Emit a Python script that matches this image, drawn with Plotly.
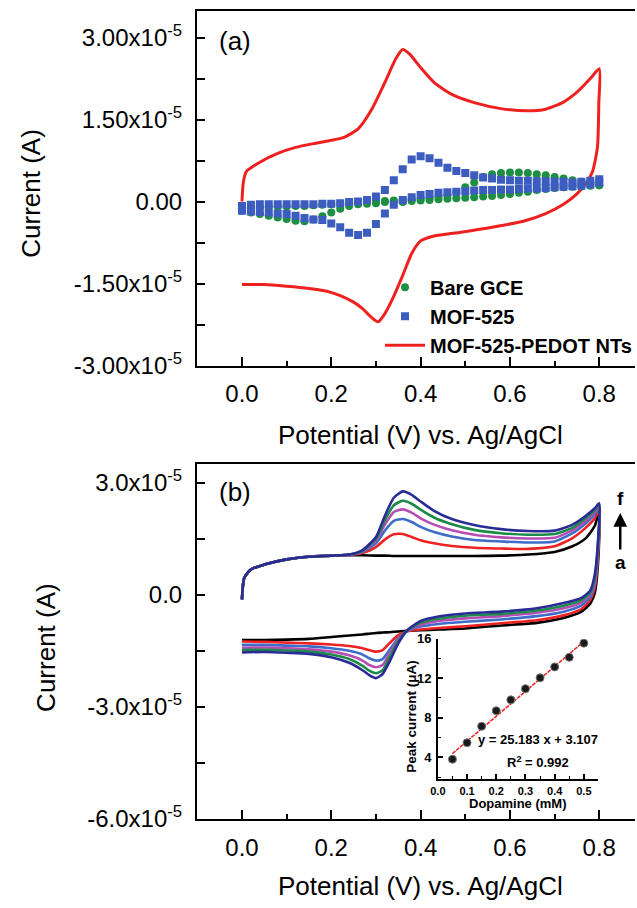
import plotly.graph_objects as go

FONT = "Arial, 'Liberation Sans', sans-serif"
W, H = 637, 908
SCALE = 1e-5  # current arrays below are in units of 1e-5 A

# ---------------- Panel (a) ----------------
a_fwd_x = [0.00, 0.02, 0.04, 0.06, 0.08, 0.10, 0.12, 0.14, 0.16, 0.18, 0.20,
           0.22, 0.24, 0.26, 0.28, 0.30, 0.32, 0.34, 0.36, 0.38, 0.40,
           0.42, 0.44, 0.46, 0.48, 0.50, 0.52, 0.54, 0.56, 0.58, 0.60,
           0.62, 0.64, 0.66, 0.68, 0.70, 0.72, 0.74, 0.76, 0.78, 0.80]
a_rev_x = [0.80, 0.78, 0.76, 0.74, 0.72, 0.70, 0.68, 0.66, 0.64, 0.62, 0.60,
           0.58, 0.56, 0.54, 0.52, 0.50, 0.48, 0.46, 0.44, 0.42, 0.40,
           0.38, 0.36, 0.34, 0.32, 0.30, 0.28, 0.26, 0.24, 0.22, 0.20,
           0.18, 0.16, 0.14, 0.12, 0.10, 0.08, 0.06, 0.04, 0.02, 0.00]

bare_fwd = [-0.12, -0.11, -0.10, -0.10, -0.09, -0.09, -0.08, -0.08, -0.07, -0.06, -0.05,
            -0.04, -0.03, -0.02, -0.01, 0.00, 0.01, 0.02, 0.03, 0.04, 0.05,
            0.07, 0.09, 0.12, 0.17, 0.26, 0.35, 0.45, 0.50, 0.52, 0.53,
            0.53, 0.52, 0.50, 0.48, 0.45, 0.42, 0.39, 0.36, 0.33, 0.30]
bare_rev = [0.30, 0.29, 0.28, 0.27, 0.26, 0.25, 0.23, 0.21, 0.18, 0.16, 0.14,
            0.12, 0.10, 0.09, 0.08, 0.07, 0.06, 0.05, 0.04, 0.03, 0.02,
            0.01, -0.01, 0.00, -0.01, -0.03, -0.04, -0.05, -0.08, -0.13, -0.20,
            -0.27, -0.33, -0.36, -0.35, -0.32, -0.29, -0.26, -0.23, -0.20, -0.17]

mof_fwd = [-0.08, -0.06, -0.05, -0.05, -0.05, -0.05, -0.05, -0.05, -0.05, -0.04, -0.04,
           -0.03, -0.01, 0.00, 0.03, 0.09, 0.21, 0.39, 0.59, 0.77, 0.83,
           0.79, 0.71, 0.62, 0.56, 0.52, 0.48, 0.44, 0.42, 0.40, 0.39,
           0.38, 0.38, 0.37, 0.37, 0.36, 0.36, 0.35, 0.36, 0.38, 0.41]
mof_rev = [0.35, 0.31, 0.29, 0.28, 0.27, 0.26, 0.25, 0.24, 0.24, 0.23, 0.22,
           0.22, 0.21, 0.21, 0.20, 0.19, 0.18, 0.17, 0.16, 0.14, 0.12,
           0.08, 0.03, -0.06, -0.22, -0.41, -0.57, -0.61, -0.57, -0.47, -0.40,
           -0.34, -0.33, -0.30, -0.26, -0.23, -0.22, -0.20, -0.19, -0.18, -0.17]

pedot_fwd_x = [0.00, 0.003, 0.01, 0.04, 0.08, 0.12, 0.16, 0.20, 0.23, 0.26, 0.29, 0.32,
               0.345, 0.36, 0.375, 0.40, 0.43, 0.47, 0.52, 0.58, 0.64, 0.68, 0.72,
               0.75, 0.78, 0.80]
pedot_fwd_y = [0.00, 0.35, 0.55, 0.72, 0.88, 0.99, 1.06, 1.12, 1.18, 1.33, 1.68, 2.18,
               2.62, 2.78, 2.70, 2.45, 2.18, 1.96, 1.81, 1.70, 1.66, 1.69, 1.82,
               2.00, 2.25, 2.43]
pedot_rev_x = [0.799, 0.796, 0.785, 0.77, 0.75, 0.72, 0.68, 0.63, 0.56, 0.49, 0.43,
               0.40, 0.38, 0.36, 0.34, 0.32, 0.305, 0.29, 0.27, 0.25, 0.22, 0.19,
               0.15, 0.10, 0.05, 0.00]
pedot_rev_y = [1.80, 1.00, 0.55, 0.33, 0.14, -0.05, -0.22, -0.36, -0.47, -0.56, -0.63,
               -0.72, -0.95, -1.35, -1.73, -2.05, -2.20, -2.12, -1.96, -1.84, -1.72, -1.64,
               -1.59, -1.55, -1.52, -1.52]

a_ytick_vals = [-3.0, -1.5, 0.0, 1.5, 3.0]
a_ytick_text = ["-3.00x10<sup>-5</sup>", "-1.50x10<sup>-5</sup>", "0.00",
                "1.50x10<sup>-5</sup>", "3.00x10<sup>-5</sup>"]
x_tick_vals = [0.0, 0.2, 0.4, 0.6, 0.8]
x_tick_text = ["0.0", "0.2", "0.4", "0.6", "0.8"]

# ---------------- Panel (b) ----------------
b_fwd_x = [0.0, 0.005, 0.02, 0.05, 0.10, 0.15, 0.20, 0.24, 0.27, 0.30, 0.32, 0.34,
           0.36, 0.38, 0.40, 0.43, 0.47, 0.52, 0.58, 0.64, 0.70, 0.74, 0.77, 0.79, 0.80]
b_rev_x = [0.798, 0.79, 0.78, 0.76, 0.72, 0.66, 0.58, 0.50, 0.44, 0.40, 0.37, 0.35,
           0.33, 0.315, 0.30, 0.285, 0.27, 0.24, 0.20, 0.15, 0.10, 0.05, 0.0]

cv_names = ["a", "b", "c", "d", "e", "f"]
cv_colors = ["#000000", "#ee2222", "#3d6cc9", "#b54db5", "#1c8a48", "#2b2b96"]
cv_fwd = [
    [-0.12, 0.45, 0.68, 0.81, 0.95, 1.02, 1.05, 1.06, 1.06, 1.05, 1.05, 1.04,
     1.04, 1.04, 1.04, 1.04, 1.04, 1.04, 1.05, 1.08, 1.15, 1.30, 1.52, 1.85, 2.25],
    [-0.12, 0.45, 0.68, 0.81, 0.95, 1.02, 1.05, 1.07, 1.12, 1.28, 1.48, 1.62,
     1.63, 1.55, 1.46, 1.38, 1.31, 1.26, 1.24, 1.23, 1.30, 1.52, 1.80, 2.05, 2.30],
    [-0.12, 0.45, 0.68, 0.81, 0.95, 1.02, 1.05, 1.07, 1.15, 1.38, 1.72, 1.98,
     2.03, 1.95, 1.82, 1.68, 1.56, 1.47, 1.43, 1.40, 1.43, 1.65, 1.92, 2.16, 2.35],
    [-0.12, 0.45, 0.68, 0.81, 0.95, 1.02, 1.05, 1.07, 1.17, 1.45, 1.88, 2.22,
     2.29, 2.20, 2.05, 1.88, 1.73, 1.61, 1.54, 1.51, 1.53, 1.73, 1.99, 2.22, 2.38],
    [-0.12, 0.45, 0.68, 0.81, 0.95, 1.02, 1.05, 1.08, 1.18, 1.50, 2.00, 2.40,
     2.52, 2.44, 2.28, 2.07, 1.89, 1.74, 1.65, 1.61, 1.63, 1.80, 2.06, 2.27, 2.42],
    [-0.12, 0.45, 0.68, 0.81, 0.95, 1.02, 1.05, 1.08, 1.20, 1.55, 2.12, 2.60,
     2.77, 2.68, 2.50, 2.25, 2.03, 1.87, 1.76, 1.71, 1.72, 1.88, 2.12, 2.32, 2.45],
]
cv_rev = [
    [1.00, 0.05, -0.23, -0.45, -0.62, -0.75, -0.82, -0.90, -0.93, -0.95, -0.96, -0.98,
     -1.00, -1.01, -1.02, -1.04, -1.06, -1.09, -1.13, -1.18, -1.20, -1.21, -1.21],
    [1.20, 0.20, -0.13, -0.38, -0.55, -0.68, -0.76, -0.84, -0.89, -0.93, -0.98, -1.08,
     -1.30, -1.48, -1.52, -1.48, -1.43, -1.37, -1.33, -1.30, -1.28, -1.26, -1.25],
    [1.35, 0.30, -0.05, -0.28, -0.45, -0.57, -0.66, -0.72, -0.78, -0.85, -0.97, -1.16,
     -1.48, -1.72, -1.76, -1.70, -1.60, -1.50, -1.43, -1.38, -1.36, -1.34, -1.34],
    [1.45, 0.38, 0.02, -0.20, -0.36, -0.48, -0.57, -0.63, -0.70, -0.80, -0.96, -1.20,
     -1.58, -1.88, -1.94, -1.88, -1.76, -1.62, -1.52, -1.46, -1.43, -1.41, -1.42],
    [1.52, 0.46, 0.07, -0.14, -0.29, -0.42, -0.51, -0.56, -0.64, -0.75, -0.95, -1.25,
     -1.68, -2.02, -2.10, -2.03, -1.90, -1.72, -1.60, -1.52, -1.49, -1.47, -1.48],
    [1.60, 0.55, 0.12, -0.08, -0.22, -0.36, -0.45, -0.50, -0.58, -0.70, -0.95, -1.30,
     -1.80, -2.12, -2.23, -2.15, -2.02, -1.82, -1.67, -1.58, -1.55, -1.53, -1.54],
]

b_ytick_vals = [-6.0, -3.0, 0.0, 3.0]
b_ytick_text = ["-6.0x10<sup>-5</sup>", "-3.0x10<sup>-5</sup>", "0.0", "3.0x10<sup>-5</sup>"]

# ---------------- Inset ----------------
dopamine_mM = [0.05, 0.10, 0.15, 0.20, 0.25, 0.30, 0.35, 0.40, 0.45, 0.50]
peak_uA = [3.8, 5.47, 7.13, 8.7, 9.8, 10.93, 12.03, 13.13, 14.1, 15.53]
fit_slope, fit_intercept = 25.183, 3.107
fit_x = [0.05, 0.50]

# ---------------- helpers (layout only) ----------------
# Vertical pixel positions are given as seen in the target picture; the photographed
# page adds a small vertical offset/compression, which is compensated here.
V_OFF, V_SC = 8.2, 0.9815

def fx(p):
    return p / W

def fy(p):
    return 1 - ((p - V_OFF) / V_SC) / H

fig = go.Figure()

# Panel (a) traces
fig.add_trace(go.Scatter(
    x=pedot_fwd_x + pedot_rev_x, y=[v * SCALE for v in pedot_fwd_y + pedot_rev_y],
    mode="lines", name="MOF-525-PEDOT NTs", legendrank=3,
    line=dict(color="#ee2020", width=3, shape="spline", smoothing=0.6),
    xaxis="x", yaxis="y"))
fig.add_trace(go.Scatter(
    x=a_fwd_x + a_rev_x, y=[v * SCALE for v in bare_fwd + bare_rev],
    mode="markers", name="Bare GCE", legendrank=1,
    marker=dict(color="#1e8f42", size=8, symbol="circle"),
    xaxis="x", yaxis="y"))
fig.add_trace(go.Scatter(
    x=a_fwd_x + a_rev_x, y=[v * SCALE for v in mof_fwd + mof_rev],
    mode="markers", name="MOF-525", legendrank=2,
    marker=dict(color="#3c5cbf", size=8, symbol="square"),
    xaxis="x", yaxis="y"))

# Panel (b) traces
for name, col, fw, rv in zip(cv_names, cv_colors, cv_fwd, cv_rev):
    fig.add_trace(go.Scatter(
        x=b_fwd_x + b_rev_x, y=[v * SCALE for v in fw + rv],
        mode="lines", name=name, showlegend=False,
        line=dict(color=col, width=2.6, shape="spline", smoothing=0.6),
        xaxis="x2", yaxis="y2"))

# Inset traces
fig.add_trace(go.Scatter(
    x=fit_x, y=[fit_slope * v + fit_intercept for v in fit_x],
    mode="lines", showlegend=False,
    line=dict(color="#ee2020", width=1.5, dash="4px,1px"),
    xaxis="x3", yaxis="y3"))
fig.add_trace(go.Scatter(
    x=dopamine_mM, y=peak_uA, mode="markers", showlegend=False,
    marker=dict(color="#1a1a1a", size=8, line=dict(color="#777777", width=1)),
    xaxis="x3", yaxis="y3"))

tickfont_main = dict(family=FONT, size=24, color="black")
common_x = dict(showgrid=False, zeroline=False, showline=True, linewidth=2, linecolor="black",
                ticks="inside", ticklen=9, tickwidth=2, tickcolor="black",
                tickmode="array", tickvals=x_tick_vals, ticktext=x_tick_text,
                minor=dict(tickvals=[0.1, 0.3, 0.5, 0.7], ticks="inside", ticklen=5,
                           tickwidth=2, tickcolor="black"),
                tickfont=tickfont_main, ticklabelstandoff=6,
                range=[-0.1007, 0.880], domain=[fx(192), 1.0], mirror=True)
common_y = dict(showgrid=False, zeroline=False, showline=True, linewidth=2, linecolor="black",
                ticks="inside", ticklen=8, tickwidth=2, tickcolor="black",
                tickmode="array", tickfont=tickfont_main, ticklabelstandoff=8)

fig.update_layout(
    autosize=True, margin=dict(l=0, r=0, t=0, b=0),
    paper_bgcolor="white", plot_bgcolor="white",
    font=dict(family=FONT, color="black"),
    xaxis=dict(common_x, anchor="y"),
    yaxis=dict(common_y, anchor="x", domain=[fy(368), fy(12)], range=[-3.0e-5, 3.49e-5],
               tickvals=[v * SCALE for v in a_ytick_vals], ticktext=a_ytick_text,
               minor=dict(tickvals=[-2.25e-5, -0.75e-5, 0.75e-5, 2.25e-5], ticks="inside",
                          ticklen=8, tickwidth=2, tickcolor="black")),
    xaxis2=dict(common_x, anchor="y2"),
    yaxis2=dict(common_y, anchor="x2", domain=[fy(823), fy(467)], range=[-6.0e-5, 3.5e-5],
                tickvals=[v * SCALE for v in b_ytick_vals], ticktext=b_ytick_text,
                minor=dict(tickvals=[-4.5e-5, -1.5e-5, 1.5e-5], ticks="inside",
                           ticklen=8, tickwidth=2, tickcolor="black")),
    xaxis3=dict(anchor="y3", domain=[fx(436.7), fx(599)], range=[0, 0.547],
                showgrid=False, zeroline=False, showline=True, linewidth=1.5, linecolor="black",
                ticks="inside", ticklen=5, tickwidth=1.5, tickcolor="black",
                tickmode="array", tickvals=[0.0, 0.1, 0.2, 0.3, 0.4, 0.5],
                ticktext=["0.0", "0.1", "0.2", "0.3", "0.4", "0.5"],
                minor=dict(tickvals=[0.05, 0.15, 0.25, 0.35, 0.45], ticks="inside", ticklen=3,
                           tickwidth=1.2, tickcolor="black"),
                tickfont=dict(family=FONT, size=11, color="black", weight="bold"),
                ticklabelstandoff=1),
    yaxis3=dict(anchor="x3", domain=[fy(783), fy(642)], range=[1.8, 16],
                showgrid=False, zeroline=False, showline=True, linewidth=1.5, linecolor="black",
                ticks="inside", ticklen=5, tickwidth=1.5, tickcolor="black",
                tickmode="array", tickvals=[4, 8, 12, 16], ticktext=["4", "8", "12", "16"],
                minor=dict(tickvals=[2, 6, 10, 14], ticks="inside", ticklen=3,
                           tickwidth=1.2, tickcolor="black"),
                tickfont=dict(family=FONT, size=13, color="black", weight="bold"),
                ticklabelstandoff=2),
    legend=dict(x=fx(378), y=fy(270), xanchor="left", yanchor="top",
                bgcolor="rgba(0,0,0,0)", borderwidth=0,
                font=dict(family=FONT, size=20, color="black", weight="bold"),
                tracegroupgap=0, itemwidth=40),
)

ann = []
def text_ann(txt, x, y, size, bold=False, angle=0):
    ann.append(dict(text=txt, x=fx(x), y=fy(y), xref="paper", yref="paper",
                    xanchor="center", yanchor="middle", showarrow=False, textangle=angle,
                    font=dict(family=FONT, size=size, color="black",
                              weight="bold" if bold else "normal")))

text_ann("(a)", 231, 42, 26)
text_ann("(b)", 231, 495, 26)
text_ann("Current (A)", 24, 195, 26, angle=-90)
text_ann("Current (A)", 39, 651, 26, angle=-90)
text_ann("Potential (V) vs. Ag/AgCl", 419, 438, 26)
text_ann("Potential (V) vs. Ag/AgCl", 419, 890, 26)
text_ann("Peak current (μA)", 410, 720, 13.5, bold=True, angle=-90)
text_ann("Dopamine (mM)", 518, 808, 13, bold=True)
text_ann("y = 25.183 x + 3.107", 538, 743, 13, bold=True)
text_ann("R<sup>2</sup> = 0.992", 538, 766, 13, bold=True)
text_ann("f", 622, 501, 19, bold=True)
text_ann("a", 622, 566, 19, bold=True)
ann.append(dict(text="", x=fx(622), y=fy(516), xref="paper", yref="paper",
                ax=0, ay=38, showarrow=True, arrowhead=2, arrowsize=1.1,
                arrowwidth=2.5, arrowcolor="black", standoff=0))
fig.update_layout(annotations=ann)

fig.write_html(
    "out.html",
    config={"displayModeBar": False},
    default_width="637px; position:fixed; left:0px; top:0px; margin:0px",
    default_height="908px",
    post_script="document.body.style.margin='0';document.body.style.overflow='hidden';",
)
